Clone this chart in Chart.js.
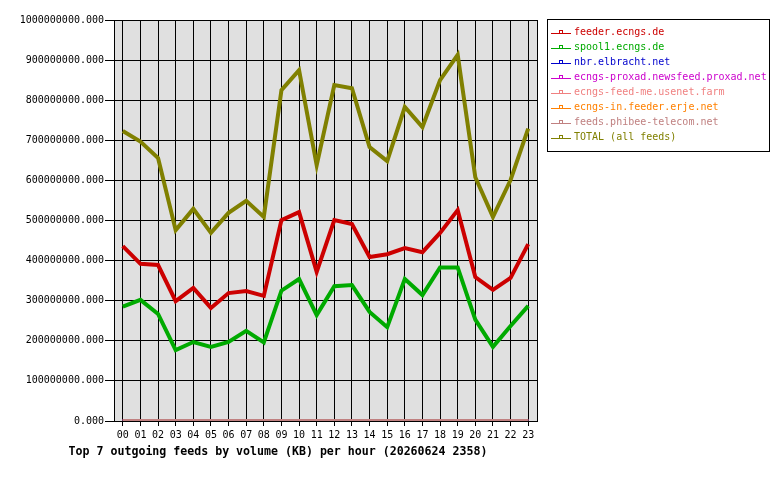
<!DOCTYPE html>
<html>
<head>
<meta charset="utf-8">
<script src="https://cdn.jsdelivr.net/npm/chart.js@4.4.1/dist/chart.umd.min.js"></script>
<style>
  html, body { margin: 0; padding: 0; background: #fff; }
  #wrap { width: 780px; height: 480px; }
</style>
</head>
<body>
<div id="wrap"><canvas id="feedChart"></canvas></div>
<script>
// hours of the day
const hours = ['00','01','02','03','04','05','06','07','08','09','10','11',
               '12','13','14','15','16','17','18','19','20','21','22','23'];

// volume per feed (KB)
const feederEcngs = [436e6, 392e6, 389e6, 299e6, 332e6, 282e6, 319e6, 324e6, 312e6, 501e6, 521e6, 372e6,
                     501e6, 491e6, 409e6, 416e6, 431e6, 421e6, 469e6, 526e6, 359e6, 327e6, 357e6, 441e6];
const spool1Ecngs = [285e6, 302e6, 267e6, 177e6, 197e6, 185e6, 197e6, 225e6, 196e6, 325e6, 354e6, 264e6,
                     336e6, 339e6, 272e6, 234e6, 354e6, 314e6, 383e6, 383e6, 253e6, 185e6, 237e6, 287e6];
const nbrElbracht = [0,0,0,0,0,0,0,0,0,0,0,0, 0,0,0,0,0,0,0,0,0,0,0,0];
const proxad      = [0,0,0,0,0,0,0,0,0,0,0,0, 0,0,0,0,0,0,0,0,0,0,0,0];
const feedMe      = [0,0,0,0,0,0,0,0,0,0,0,0, 0,0,0,0,0,0,0,0,0,0,0,0];
const erje        = [0,0,0,0,0,0,0,0,0,0,0,0, 0,0,0,0,0,0,0,0,0,0,0,0];
const phibee      = [0,0,0,0,0,0,0,0,0,0,0,0, 0,0,0,0,0,0,0,0,0,0,0,0];
const totalFeeds  = [723e6, 697e6, 656e6, 476e6, 529e6, 469e6, 519e6, 549e6, 509e6, 825e6, 875e6, 638e6,
                     838e6, 830e6, 683e6, 648e6, 783e6, 733e6, 850e6, 913e6, 608e6, 509e6, 601e6, 729e6];

const feedNames = ['feeder.ecngs.de', 'spool1.ecngs.de', 'nbr.elbracht.net',
                   'ecngs-proxad.newsfeed.proxad.net', 'ecngs-feed-me.usenet.farm',
                   'ecngs-in.feeder.erje.net', 'feeds.phibee-telecom.net', 'TOTAL (all feeds)'];
const feedColors = ['#cc0000', '#00aa00', '#0000cc', '#cc00cc', '#f08080', '#ff8000', '#c08080', '#808000'];
const feedValues = [feederEcngs, spool1Ecngs, nbrElbracht, proxad, feedMe, erje, phibee, totalFeeds];

const titleText = 'Top 7 outgoing feeds by volume (KB) per hour (20260624 2358)';
const mono = '"DejaVu Sans Mono", "Liberation Mono", monospace';

// grey plot background + black frame
const plotFrame = {
    id: 'plotFrame',
    beforeDraw(chart) {
        const a = chart.chartArea, ctx = chart.ctx;
        ctx.save();
        ctx.fillStyle = '#e0e0e0';
        ctx.fillRect(a.left, a.top, a.right - a.left, a.bottom - a.top);
        ctx.restore();
    },
    beforeDatasetsDraw(chart) {
        const a = chart.chartArea, ctx = chart.ctx;
        ctx.save();
        ctx.strokeStyle = '#000';
        ctx.lineWidth = 1;
        ctx.strokeRect(Math.round(a.left) + 0.5, Math.round(a.top) + 0.5,
                       Math.round(a.right - a.left), Math.round(a.bottom - a.top));
        ctx.restore();
    }
};

// boxed legend on the right and the title below the axis
const sideLegend = {
    id: 'sideLegend',
    afterDraw(chart) {
        const ctx = chart.ctx;
        const a = chart.chartArea;
        const x0 = a.right + 10, y0 = 19;
        ctx.save();
        ctx.strokeStyle = '#000';
        ctx.lineWidth = 1;
        ctx.strokeRect(x0 + 0.5, y0 + 0.5, 222, 132);
        ctx.font = '10px ' + mono;
        ctx.textBaseline = 'middle';
        chart.data.datasets.forEach(function(ds, i) {
            const y = y0 + 13.5 + i * 15;
            ctx.strokeStyle = ds.borderColor;
            ctx.beginPath();
            ctx.moveTo(x0 + 4, Math.round(y) + 0.5);
            ctx.lineTo(x0 + 24, Math.round(y) + 0.5);
            ctx.stroke();
            ctx.strokeRect(x0 + 12.5, Math.round(y) - 2.5, 3, 3);
            ctx.fillStyle = ds.borderColor;
            ctx.fillText(ds.label, x0 + 27, y);
        });
        ctx.fillStyle = '#000';
        ctx.font = 'bold 11.6px ' + mono;
        ctx.textAlign = 'center';
        ctx.fillText(titleText, 278, 452);
        ctx.restore();
    }
};

window.onload = function() {
    const ctx = document.getElementById('feedChart').getContext('2d');
    new Chart(ctx, {
        type: 'line',
        data: {
            labels: hours,
            datasets: feedNames.map(function(name, i) {
                return {
                    label: name,
                    data: feedValues[i],
                    borderColor: feedColors[i],
                    backgroundColor: feedColors[i],
                    borderWidth: 4,
                    pointRadius: 0,
                    tension: 0,
                    fill: false,
                    order: name === 'feeds.phibee-telecom.net' ? -1 : 0
                };
            })
        },
        options: {
            responsive: true,
            maintainAspectRatio: false,
            animation: false,
            devicePixelRatio: 1,
            layout: { padding: { left: 0, top: 20, right: 243, bottom: 0 } },
            scales: {
                x: {
                    offset: true,
                    grid: { color: '#000', lineWidth: 1, tickLength: 5 },
                    border: { display: true, color: '#000' },
                    ticks: { color: '#000', font: { family: mono, size: 10 }, padding: 3,
                             maxRotation: 0, autoSkip: false },
                    afterFit: function(s) { s.height = 59; }
                },
                y: {
                    min: 0,
                    max: 1e9,
                    grid: { color: '#000', lineWidth: 1, tickLength: 9 },
                    border: { display: true, color: '#000' },
                    ticks: {
                        stepSize: 1e8,
                        color: '#000',
                        font: { family: mono, size: 10 },
                        padding: 1,
                        callback: function(v) { return v.toFixed(3); }
                    },
                    afterFit: function(s) { s.width = 114; }
                }
            },
            plugins: {
                legend: { display: false },
                tooltip: { enabled: false }
            }
        },
        plugins: [plotFrame, sideLegend]
    });
};
</script>
</body>
</html>
